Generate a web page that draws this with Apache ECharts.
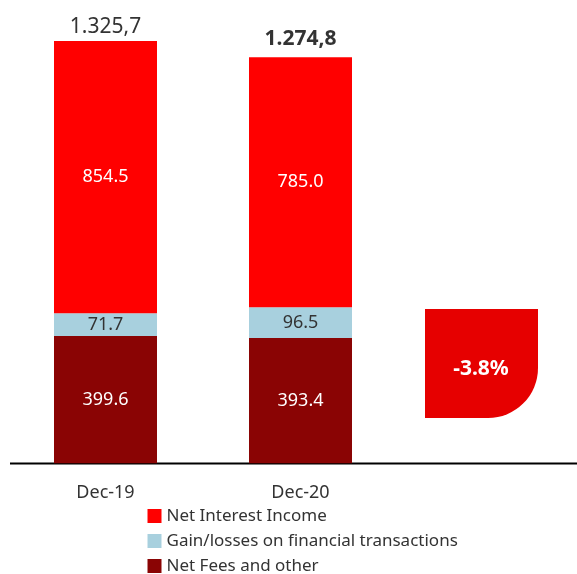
<!DOCTYPE html>
<html><head><meta charset="utf-8">
<script src="https://cdn.jsdelivr.net/npm/echarts@6/dist/echarts.min.js"></script>
<style>html,body{margin:0;padding:0;background:#fff}#c{width:577px;height:574px}</style>
</head><body><div id="c"></div>
<script>
const categories = ['Dec-19', 'Dec-20'];
const netFees = [399.6, 393.4];
const gainLosses = [71.7, 96.5];
const netInterest = [854.5, 785.0];
const totalLabels = ['1.325,7', '1.274,8'];
const totalBold = [false, true];
const changeText = '-3.8%';
const seriesNames = ['Net Interest Income', 'Gain/losses on financial transactions', 'Net Fees and other'];

const FONT = '"Noto Sans", sans-serif';
const chart = echarts.init(document.getElementById('c'));
const inLabel = (color) => ({show: true, position: 'inside', color: color, fontSize: 18, fontFamily: FONT,
  formatter: p => p.value.toFixed(1)});
chart.setOption({
  animation: false,
  textStyle: {fontFamily: FONT},
  grid: {left: 8, right: 179, top: 10, bottom: 110.7},
  xAxis: {type: 'category', data: categories, axisLine: {show: false}, axisTick: {show: false},
    axisLabel: {color: '#333', fontSize: 18, fontFamily: FONT, margin: 21}},
  yAxis: {type: 'value', min: 0, max: 1423.2, show: false, splitLine: {show: false}},
  legend: {orient: 'vertical', left: 147.5, top: 507.5, height: 80, padding: 0,
    itemWidth: 14, itemHeight: 14, itemGap: 8,
    textStyle: {color: '#333', fontSize: 17, lineHeight: 17, fontFamily: FONT},
    data: seriesNames.map(n => ({name: n, icon: 'rect'}))},
  series: [
    {name: seriesNames[2], type: 'bar', stack: 's', barWidth: 103, data: netFees,
      itemStyle: {color: '#8a0404'}, label: inLabel('#fff')},
    {name: seriesNames[1], type: 'bar', stack: 's', data: gainLosses,
      itemStyle: {color: '#a8d0de'}, label: inLabel('#333')},
    {name: seriesNames[0], type: 'bar', stack: 's', data: netInterest,
      itemStyle: {color: '#ff0000'}, label: inLabel('#fff')},
    {name: 'total', type: 'bar', stack: 's', data: totalLabels.map((t, i) => ({value: 0,
      label: {show: true, position: 'top', distance: totalBold[i] ? 8 : 4, formatter: t, color: '#333', fontSize: 21,
        fontFamily: FONT, fontWeight: totalBold[i] ? 'bold' : 'normal'}})),
      itemStyle: {color: 'transparent'}}
  ],
  graphic: [
    {type: 'line', shape: {x1: 10, y1: 463.5, x2: 577, y2: 463.5}, style: {stroke: '#000', lineWidth: 2}},
    {type: 'rect', shape: {x: 425, y: 309, width: 113, height: 109, r: [0, 0, 50, 0]}, style: {fill: '#e60000'}},
    {type: 'text', x: 481, y: 369, style: {text: changeText, fill: '#fff', font: 'bold 21px ' + FONT,
      align: 'center', verticalAlign: 'middle'}}
  ]
});
</script></body></html>
